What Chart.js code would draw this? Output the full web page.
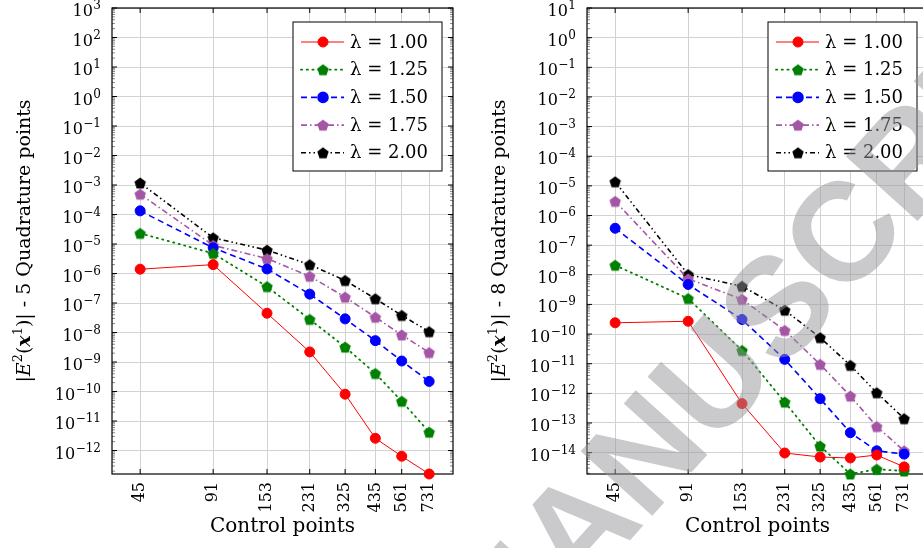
<!DOCTYPE html>
<html>
<head>
<meta charset="utf-8">
<script src="https://cdn.jsdelivr.net/npm/chart.js@4.4.1/dist/chart.umd.min.js"></script>
<style>
  html, body { margin: 0; padding: 0; background: #fff; overflow: hidden; }
  #wrap { position: relative; width: 923px; height: 548px; overflow: hidden; }
  #left { position: absolute; left: 0; top: 0; width: 460px; height: 548px; }
  #right { position: absolute; left: 460px; top: 0; width: 475px; height: 548px; }
</style>
</head>
<body>
<div id="wrap">
  <div id="left"><canvas id="chart5"></canvas></div>
  <div id="right"><canvas id="chart8"></canvas></div>
</div>
<script>
// x categories (control points)
const controlPoints = [45, 91, 153, 231, 325, 435, 561, 731];
const lambdaLabels = ["1.00", "1.25", "1.50", "1.75", "2.00"];

// 5 quadrature points
const err5_l100 = [1.4e-6, 2.0e-6, 4.5e-8, 2.2e-9, 8.1e-11, 2.6e-12, 6.4e-13, 1.6e-13];
const err5_l125 = [2.3e-5, 4.8e-6, 3.6e-7, 2.8e-8, 3.2e-9, 4.1e-10, 4.7e-11, 4.2e-12];
const err5_l150 = [1.33e-4, 7.4e-6, 1.43e-6, 2.0e-7, 2.9e-8, 5.3e-9, 1.08e-9, 2.2e-10];
const err5_l175 = [4.9e-4, 9.0e-6, 3.2e-6, 8.1e-7, 1.59e-7, 3.3e-8, 8.3e-9, 2.1e-9];
const err5_l200 = [1.17e-3, 1.63e-5, 6.2e-6, 2.0e-6, 5.8e-7, 1.4e-7, 3.8e-8, 1.07e-8];

// 8 quadrature points
const err8_l100 = [2.4e-10, 2.7e-10, 4.5e-13, 9.7e-15, 7.1e-15, 6.6e-15, 8.3e-15, 3.3e-15];
const err8_l125 = [2.1e-8, 1.58e-9, 2.8e-11, 5.1e-13, 1.67e-14, 1.9e-15, 2.75e-15, 2.4e-15];
const err8_l150 = [3.7e-7, 4.7e-9, 3.1e-10, 1.4e-11, 6.6e-13, 4.7e-14, 1.15e-14, 8.9e-15];
const err8_l175 = [3.0e-6, 7.3e-9, 1.48e-9, 1.33e-10, 9.5e-12, 8.1e-13, 7.6e-14, 1.15e-14];
const err8_l200 = [1.37e-5, 1.02e-8, 4.1e-9, 6.4e-10, 7.6e-11, 8.8e-12, 1.05e-12, 1.4e-13];

// y tick exponents (labels 10^e)
const yExp5 = [3, 2, 1, 0, -1, -2, -3, -4, -5, -6, -7, -8, -9, -10, -11, -12];
const yExp8 = [1, 0, -1, -2, -3, -4, -5, -6, -7, -8, -9, -10, -11, -12, -13, -14];

const SERIF = '"DejaVu Serif", "Liberation Serif", serif';

function pentagon(color, r) {
  const c = document.createElement("canvas");
  const s = Math.ceil(2 * r + 2);
  c.width = s; c.height = s;
  const g = c.getContext("2d");
  g.fillStyle = color;
  g.beginPath();
  for (let i = 0; i < 5; i++) {
    const a = -Math.PI / 2 + i * 2 * Math.PI / 5;
    const px = s / 2 + r * Math.cos(a), py = s / 2 + r * Math.sin(a) + 0.6;
    if (i === 0) g.moveTo(px, py); else g.lineTo(px, py);
  }
  g.closePath();
  g.fill();
  return c;
}

const styles = [
  { color: "#ff0000", width: 1, dash: [], point: "circle", radius: 5 },
  { color: "#008000", width: 1.8, dash: [1.2, 4.5], point: pentagon("#008000", 6), radius: 5.5 },
  { color: "#0000ff", width: 1.6, dash: [6, 4], point: "circle", radius: 5 },
  { color: "#a455a6", width: 1.6, dash: [6, 3, 1.5, 3], point: pentagon("#a455a6", 6), radius: 5.5 },
  { color: "#000000", width: 1.6, dash: [5, 3, 1.5, 3, 1.5, 3], point: pentagon("#000000", 6), radius: 5.5 }
];

function makeDatasets(series) {
  return series.map((vals, k) => ({
    label: "\u03bb = " + lambdaLabels[k],
    data: controlPoints.map((x, i) => ({ x: x, y: vals[i] })),
    borderColor: styles[k].color,
    backgroundColor: styles[k].color,
    borderWidth: styles[k].width,
    borderDash: styles[k].dash,
    borderCapStyle: k === 1 ? "round" : "butt",
    pointStyle: styles[k].point,
    pointRadius: styles[k].radius,
    pointBackgroundColor: styles[k].color,
    pointBorderColor: styles[k].color,
    pointBorderWidth: 1,
    tension: 0,
    clip: false
  }));
}

// frame, ticks, tick labels, y title, legend
const decorPlugin = {
  id: "decor",
  beforeDatasetsDraw(chart, args, opts) {
    const ctx = chart.ctx, a = chart.chartArea;
    const ys = chart.scales.y, xs = chart.scales.x;
    ctx.save();
    // minor ticks on left/right borders
    ctx.strokeStyle = "#555";
    ctx.lineWidth = 0.7;
    for (let e = opts.exps[opts.exps.length - 1] - 1; e <= opts.exps[0]; e++) {
      for (let m = 2; m <= 9; m++) {
        const v = m * Math.pow(10, e);
        if (v < ys.min || v > ys.max) continue;
        const y = ys.getPixelForValue(v);
        ctx.beginPath();
        ctx.moveTo(a.left, y); ctx.lineTo(a.left + 3, y);
        ctx.moveTo(a.right, y); ctx.lineTo(a.right - 3, y);
        ctx.stroke();
      }
    }
    // major ticks
    ctx.strokeStyle = "#000";
    ctx.lineWidth = 1;
    opts.exps.forEach(e => {
      const y = ys.getPixelForValue(Math.pow(10, e));
      ctx.beginPath();
      ctx.moveTo(a.left, y); ctx.lineTo(a.left + 5, y);
      ctx.moveTo(a.right, y); ctx.lineTo(a.right - 5, y);
      ctx.stroke();
    });
    controlPoints.forEach(v => {
      const x = xs.getPixelForValue(v);
      ctx.beginPath();
      ctx.moveTo(x, a.bottom); ctx.lineTo(x, a.bottom - 5);
      ctx.moveTo(x, a.top); ctx.lineTo(x, a.top + 5);
      ctx.stroke();
    });
    // frame
    ctx.lineWidth = 1.2;
    ctx.strokeRect(a.left, a.top, a.right - a.left, a.bottom - a.top);

    // y tick labels 10^e
    ctx.fillStyle = "#000";
    ctx.textAlign = "left";
    ctx.textBaseline = "alphabetic";
    opts.exps.forEach(e => {
      const y = ys.getPixelForValue(Math.pow(10, e));
      const es = String(e).replace("-", "\u2212");
      ctx.font = "12px " + SERIF;
      const we = ctx.measureText(es).width;
      ctx.font = "16px " + SERIF;
      const wb = ctx.measureText("10").width;
      const xr = a.left - 11;
      ctx.fillText("10", xr - we - wb - 0.5, y + 8);
      ctx.font = "12px " + SERIF;
      ctx.fillText(es, xr - we, y + 1);
    });

    // y title with mixed fonts
    const segs = [
      { t: "|", f: "19px " + SERIF, dy: 0 },
      { t: "E", f: "italic 19px " + SERIF, dy: 0 },
      { t: "2", f: "13px " + SERIF, dy: -8 },
      { t: "(", f: "19px " + SERIF, dy: 0 },
      { t: "x", f: "italic bold 19px " + SERIF, dy: 0 },
      { t: "1", f: "13px " + SERIF, dy: -8 },
      { t: ")| - " + opts.quad + " Quadrature points", f: "19px " + SERIF, dy: 0 }
    ];
    let total = 0;
    segs.forEach(s => { ctx.font = s.f; s.w = ctx.measureText(s.t).width; total += s.w; });
    ctx.translate(a.left - 82, (a.top + a.bottom) / 2);
    ctx.rotate(-Math.PI / 2);
    let cx = -total / 2;
    segs.forEach(s => {
      ctx.font = s.f;
      ctx.fillText(s.t, cx, s.dy);
      cx += s.w;
    });
    ctx.restore();
  },
  afterDraw(chart, args, opts) {
    const ctx = chart.ctx, a = chart.chartArea;
    ctx.save();
    const bw = 149, bh = 149;
    const bx = a.right - 11 - bw, by = a.top + 14;
    ctx.fillStyle = "#fff";
    ctx.fillRect(bx, by, bw, bh);
    ctx.strokeStyle = "#000";
    ctx.lineWidth = 1;
    ctx.strokeRect(bx, by, bw, bh);
    chart.data.datasets.forEach((ds, k) => {
      const y = by + 20 + k * 27.7;
      const st = styles[k];
      ctx.strokeStyle = st.color;
      ctx.lineWidth = st.width;
      ctx.setLineDash(st.dash);
      ctx.lineCap = k === 1 ? "round" : "butt";
      ctx.beginPath();
      ctx.moveTo(bx + 8, y); ctx.lineTo(bx + 51, y);
      ctx.stroke();
      ctx.setLineDash([]);
      ctx.fillStyle = st.color;
      Chart.helpers.drawPoint(ctx, { pointStyle: st.point, radius: st.radius, rotation: 0, borderWidth: 1 }, bx + 30, y);
      ctx.fillStyle = "#000";
      ctx.font = "18px " + SERIF;
      ctx.textAlign = "left";
      ctx.textBaseline = "middle";
      ctx.fillText(ds.label, bx + 57, y + 1);
    });
    // watermark
    if (opts.watermark) {
      const fs = 140;
      ctx.font = "bold " + fs + "px 'Liberation Sans', Arial, sans-serif";
      ctx.fillStyle = "rgba(150,150,155,0.5)";
      const pre = ctx.measureText("ACCEPTED MANU").width;
      const sw = ctx.measureText("S").width;
      ctx.translate(775 - 460, 304);
      ctx.rotate(-48 * Math.PI / 180);
      ctx.textAlign = "left";
      ctx.textBaseline = "alphabetic";
      ctx.fillText("ACCEPTED MANUSCRIPT", -pre - sw / 2, 0.36 * fs);
    }
    ctx.restore();
  }
};

function makeChart(id, series, yMin, yMax, exps, quad, yWidth, watermark) {
  return new Chart(document.getElementById(id), {
    type: "line",
    data: { datasets: makeDatasets(series) },
    plugins: [decorPlugin],
    options: {
      responsive: true,
      maintainAspectRatio: false,
      animation: false,
      layout: { padding: { top: 8, right: 7, left: 0, bottom: 0 } },
      plugins: {
        legend: { display: false },
        tooltip: { enabled: false },
        decor: { exps: exps, quad: quad, watermark: watermark }
      },
      scales: {
        x: {
          type: "logarithmic",
          min: 34.3,
          max: 920,
          afterBuildTicks: s => { s.ticks = controlPoints.map(v => ({ value: v })); },
          afterFit: s => { s.height = 74; },
          grid: { color: "#d2d2d2", lineWidth: 1, drawTicks: false },
          border: { display: false },
          ticks: {
            autoSkip: false,
            minRotation: 90,
            maxRotation: 90,
            padding: 8,
            color: "#000",
            font: { family: SERIF, size: 16 },
            callback: v => String(v)
          },
          title: {
            display: true,
            text: "Control points",
            color: "#000",
            font: { family: SERIF, size: 20 },
            padding: { top: 0, bottom: 9 }
          }
        },
        y: {
          type: "logarithmic",
          min: yMin,
          max: yMax,
          afterBuildTicks: s => { s.ticks = exps.map(e => ({ value: Math.pow(10, e) })); },
          afterFit: s => { s.width = yWidth; },
          grid: { color: "#d2d2d2", lineWidth: 1, drawTicks: false },
          border: { display: false },
          ticks: { display: false }
        }
      }
    }
  });
}

makeChart("chart5", [err5_l100, err5_l125, err5_l150, err5_l175, err5_l200],
  1.6e-13, 1e3, yExp5, "5", 112, false);
makeChart("chart8", [err8_l100, err8_l125, err8_l150, err8_l175, err8_l200],
  1.9e-15, 1e1, yExp8, "8", 127, true);
</script>
</body>
</html>
